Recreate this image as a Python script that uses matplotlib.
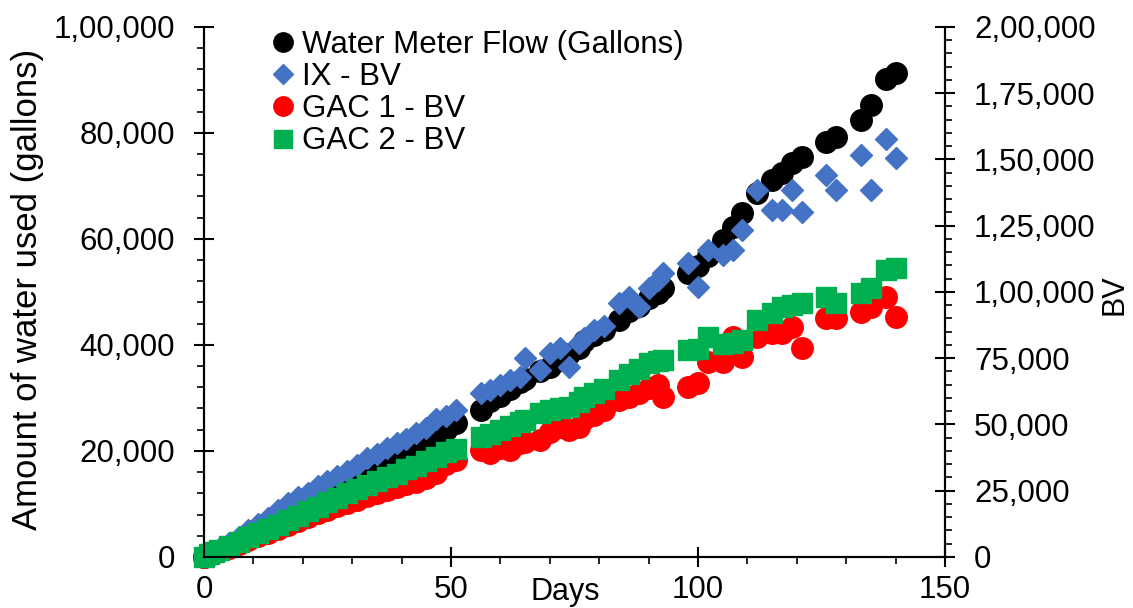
import numpy as np
import matplotlib
matplotlib.use("Agg")
import matplotlib.pyplot as plt
from matplotlib.ticker import MultipleLocator, FuncFormatter

plt.rcParams['font.family'] = ['Liberation Sans', 'DejaVu Sans']

# sampling days (shared by all series)
days = [0, 1, 2, 3, 5, 7, 9, 11, 13, 15, 17, 19, 21, 23, 25, 27, 29, 31, 33, 35, 37, 39, 41, 43, 45, 47, 49, 51,
        56, 58, 60, 62, 64, 65, 68, 70, 72, 74, 76, 77, 79, 81, 84, 86, 88, 90, 92, 93,
        98, 100, 102, 105, 107, 109, 112, 115, 117, 119, 121, 126, 128, 133, 135, 138, 140]

# water meter flow, gallons (left axis)
meter_gal = [0, 300, 700, 1100, 1900, 2800, 3700, 4600, 5500, 6400, 7300, 8200, 9200, 10200, 11200, 12200,
             13200, 14200, 15300, 16300, 17400, 18500, 19600, 20700, 21800, 22900, 24000, 25300,
             27800, 29500, 30400, 31600, 33000, 33600, 35000, 35900, 37200, 38300, 39500, 40700, 41800,
             42800, 44700, 46300, 47300, 48800, 49800, 50800,
             53600, 54800, 56800, 59800, 62300, 64900, 68700, 71100, 72500, 74300, 75500, 78300, 79200,
             82500, 85300, 90200, 91300]

# bed volumes (right axis)
ix_bv = [0, 800, 1800, 3000, 5200, 7600, 10000, 12400, 14800, 17800, 20400, 22600, 24200, 26600, 28800,
         30600, 32600, 34600, 37200, 39000, 41000, 43000, 44600, 46800, 48800, 52000, 53200, 55600,
         61900, 63000, 65000, 66600, 68000, 75100, 70600, 77000, 78800, 71700, 80700, 82500, 85700,
         87000, 95800, 98100, 94300, 101500, 104500, 107200,
         110900, 101900, 115800, 114000, 115800, 123400, 138500, 130900, 130900, 138500, 130000,
         144200, 138500, 151700, 138500, 157700, 150600]

gac1_bv = [0, 700, 1400, 2100, 3500, 5000, 6300, 7800, 9200, 10600, 12000, 13500, 15000, 16400, 17800,
           19200, 20400, 21600, 22800, 24200, 25400, 26200, 27400, 28400, 29600, 31800, 35000, 36600,
           40400, 39200, 41000, 40400, 43000, 43500, 44200, 47000, 49000, 48000, 49000, 52000, 53500,
           55500, 59200, 60500, 61900, 63800, 65000, 60400,
           64200, 65700, 73600, 73600, 83000, 75500, 83000, 84500, 84500, 86800, 78900, 90200, 90200,
           92500, 94300, 98100, 90600]

gac2_bv = [0, 1000, 1800, 2600, 4200, 5800, 7400, 9000, 10600, 12200, 13800, 15600, 17400, 19000, 20600,
           22400, 24200, 25800, 27000, 28600, 30200, 31200, 33000, 34400, 36200, 37600, 39600, 40800,
           45300, 46500, 47900, 49500, 50900, 51500, 54300, 55500, 56000, 56600, 58500, 60400, 62000,
           63500, 66800, 69000, 71000, 73200, 73800, 74300,
           78100, 78500, 83000, 80500, 80800, 81900, 89400, 92000, 94300, 95000, 95800, 98100, 95800,
           99600, 101500, 108300, 109000]


def indian_fmt(v, pos):
    # 100000 -> 1,00,000
    s = str(int(round(v)))
    if len(s) <= 3:
        return s
    last3, rest = s[-3:], s[:-3]
    groups = []
    while len(rest) > 2:
        groups.insert(0, rest[-2:])
        rest = rest[:-2]
    if rest:
        groups.insert(0, rest)
    return ",".join(groups + [last3])


fs = 22.5
fig = plt.figure(figsize=(11.33, 6.08), dpi=100)
ax = fig.add_axes([0.18, 0.084, 0.654, 0.872])
ax2 = ax.twinx()

l1, = ax.plot(days, meter_gal, 'o', color='black', ms=15.5, ls='none', clip_on=False,
              label='Water Meter Flow (Gallons)')
l2, = ax2.plot(days, ix_bv, 'D', color='#4472C4', ms=11, ls='none', clip_on=False, label='IX - BV')
l3, = ax2.plot(days, gac1_bv, 'o', color='#FF0000', ms=15.5, ls='none', clip_on=False, label='GAC 1 - BV')
l4, = ax2.plot(days, gac2_bv, 's', color='#00B050', ms=14.5, ls='none', clip_on=False, label='GAC 2 - BV')

ax.set_xlim(0, 150)
ax.set_ylim(0, 100000)
ax2.set_ylim(0, 200000)

ax.xaxis.set_major_locator(MultipleLocator(50))
ax.xaxis.set_minor_locator(MultipleLocator(10))
ax.yaxis.set_major_locator(MultipleLocator(20000))
ax.yaxis.set_minor_locator(MultipleLocator(4000))
ax2.yaxis.set_major_locator(MultipleLocator(25000))
ax2.yaxis.set_minor_locator(MultipleLocator(5000))
ax.yaxis.set_major_formatter(FuncFormatter(indian_fmt))
ax2.yaxis.set_major_formatter(FuncFormatter(indian_fmt))

for a in (ax, ax2):
    for s in a.spines.values():
        s.set_linewidth(1.5)
    a.spines['top'].set_visible(False)
    a.tick_params(which='major', direction='inout', length=14, width=1.5, labelsize=fs, pad=6)
    a.tick_params(which='minor', direction='out', length=5, width=1.2)
ax.tick_params(axis='y', which='major', pad=14)
ax2.tick_params(axis='y', which='major', pad=14)

ax.set_ylabel('Amount of water used (gallons)', fontsize=25)
ax.yaxis.set_label_coords(-0.216, 0.504)
ax2.set_ylabel('BV', fontsize=22)
ax2.yaxis.set_label_coords(1.209, 0.494)
ax.set_xlabel('Days', fontsize=22)
ax.xaxis.set_label_coords(0.487, -0.038)

ax2.legend(handles=[l1, l2, l3, l4], loc='upper left', bbox_to_anchor=(0.09, 0.994),
           frameon=False, fontsize=fs, handlelength=0.8, handletextpad=0.2,
           labelspacing=0.07, borderaxespad=0, borderpad=0, markerscale=0.9)

fig.savefig('out.png', dpi=100)
